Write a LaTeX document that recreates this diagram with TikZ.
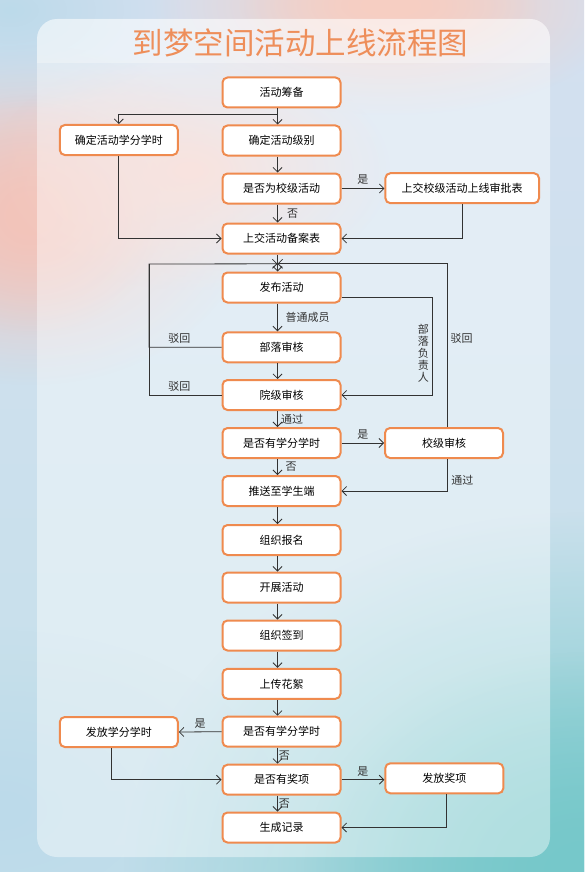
\documentclass[tikz,border=0pt]{standalone}
\usepackage{fontspec}
\setmainfont{Noto Sans CJK SC}
\usepackage{xcolor}
\usepackage{tikz}
\usetikzlibrary{arrows.meta, positioning, calc, fadings}
\definecolor{myorange}{RGB}{239,138,78}
\definecolor{titleorange}{RGB}{238,142,90}
\definecolor{mydark}{RGB}{50,50,50}
\definecolor{bgtop}{RGB}{212,224,240}
\definecolor{bgbottom}{RGB}{196,224,234}
\definecolor{bgpink}{RGB}{243,196,186}
\definecolor{bgpeach}{RGB}{247,206,194}
\definecolor{bgteal}{RGB}{118,200,202}
\definecolor{bgsky}{RGB}{188,218,234}
\tikzfading[name=softblob, inner color=transparent!0, outer color=transparent!100]
\tikzset{
  box/.style={rectangle, draw=myorange, fill=white, line width=2pt,
    minimum width=118pt, minimum height=30pt, rounded corners=5pt,
    font=\fontsize{11}{13.5}\selectfont, inner sep=2pt},
  widebox/.style={box, minimum width=153.6pt},
  arrow/.style={-{Straight Barb[length=4.5pt,width=9pt]}, line width=0.8pt, color=mydark},
  line/.style={line width=0.8pt, color=mydark},
  tag/.style={font=\fontsize{11}{12}\selectfont, text=mydark}
}

\begin{document}
\begin{tikzpicture}[x=1pt, y=-1pt]
  \useasboundingbox (0,0) rectangle (584,872);

  % Background
  \begin{scope}
    \clip (0,0) rectangle (584,872);
    \shade[top color=bgtop, bottom color=bgbottom] (0,0) rectangle (584,872);
    \fill[bgpink, path fading=softblob] (30,215) ellipse [x radius=220, y radius=170];
    \fill[bgpink, path fading=softblob] (30,215) ellipse [x radius=130, y radius=120];
    \fill[bgpink!80, path fading=softblob] (190,170) ellipse [x radius=200, y radius=120];
    \fill[bgpeach, path fading=softblob] (390,5) ellipse [x radius=240, y radius=110];
    \fill[bgpeach, path fading=softblob] (390,5) ellipse [x radius=150, y radius=60];
    \fill[bgsky, path fading=softblob] (10,10) ellipse [x radius=170, y radius=100];
    \fill[bgsky, path fading=softblob] (0,810) ellipse [x radius=280, y radius=180];
    \fill[bgteal, path fading=softblob] (584,872) ellipse [x radius=460, y radius=360];
    \fill[bgteal, path fading=softblob] (584,872) ellipse [x radius=280, y radius=220];
  \end{scope}

  % Panel
  \fill[white, fill opacity=0.42, rounded corners=20pt] (37,19) rectangle (550,857);
  \begin{scope}
    \clip[rounded corners=20pt] (37,19) rectangle (550,857);
    \fill[white, fill opacity=0.3] (37,19) rectangle (550,63);
  \end{scope}

  % Title
  \node[font=\fontsize{30.5}{36}\selectfont, text=titleorange] (title) at (300.5,43) {到梦空间活动上线流程图};

  % Nodes
  \node[box] (prep) at (281.5,92.5) {活动筹备};
  \node[box] (credit) at (118.8,140) {确定活动学分学时};
  \node[box] (level) at (281.5,140.5) {确定活动级别};
  \node[box] (school) at (281.5,188.5) {是否为校级活动};
  \node[widebox] (approval) at (462.2,188.2) {上交校级活动上线审批表};
  \node[box] (file) at (281.5,238.5) {上交活动备案表};
  \node[box] (publish) at (281.5,287.5) {发布活动};
  \node[box] (tribe) at (281.5,347.3) {部落审核};
  \node[box] (college) at (281.5,395) {院级审核};
  \node[box] (credq) at (281.5,443) {是否有学分学时};
  \node[box] (schoolrev) at (444,443) {校级审核};
  \node[box] (push) at (281.5,491) {推送至学生端};
  \node[box] (enroll) at (281.5,540) {组织报名};
  \node[box] (carry) at (281.5,587.5) {开展活动};
  \node[box] (signin) at (281.5,635.5) {组织签到};
  \node[box] (upload) at (281.5,683.8) {上传花絮};
  \node[box] (credq2) at (281.5,731.7) {是否有学分学时};
  \node[box] (grant) at (118.8,732) {发放学分学时};
  \node[box] (award) at (281.5,779.7) {是否有奖项};
  \node[box] (prize) at (444.3,778.3) {发放奖项};
  \node[box] (record) at (281.5,827.5) {生成记录};

  % Junctions
  \coordinate (split) at ([xshift=-4pt,yshift=-6pt]prep.south);
  \coordinate (merge) at ([xshift=-4pt,yshift=7.7pt]publish.north);
  \coordinate (rejL) at (149,264);

  % Connections
  \draw[line] ([xshift=-4pt]prep.south) -- (split);
  \draw[arrow] (split) -- ([xshift=-4pt]level.north);
  \draw[arrow] (split) -| (credit.north);
  \draw[arrow] ([xshift=-4pt]level.south) -- ([xshift=-4pt]school.north);
  \draw[arrow] (school.east) -- node[tag, above] {是} (school.east -| approval.west);
  \draw[arrow] ([xshift=-4pt]school.south) -- node[tag, right=6pt] {否} ([xshift=-4pt]file.north);
  \draw[arrow] (credit.south) |- (file.west);
  \draw[arrow] (approval.south) |- (file.east);
  \draw[arrow] ([xshift=-4pt]file.south) -- ([xshift=-4pt]publish.north);

  % Rejections
  \draw[arrow] (tribe.west) -| node[tag, above, pos=0.29] {驳回} (rejL) -- (merge);
  \draw[line] (college.west) -| node[tag, above, pos=0.29] {驳回} (rejL);
  \draw[arrow] ([xshift=3pt]schoolrev.north) |- node[tag, right, pos=0.27] {驳回} (merge);

  \draw[arrow] ([yshift=-10pt]publish.east) -- ++(91,0) |- node[tag, left, pos=0.285, align=center] {部\\落\\负\\责\\人} (college.east);
  \draw[arrow] ([xshift=-4pt]publish.south) -- node[tag, right=4.5pt] {普通成员} ([xshift=-4pt]tribe.north);
  \draw[arrow] ([xshift=-4pt]tribe.south) -- ([xshift=-4pt]college.north);
  \draw[arrow] ([xshift=-4pt]college.south) -- node[tag, right=0pt] {通过} ([xshift=-4pt]credq.north);
  \draw[arrow] (credq.east) -- node[tag, above] {是} (schoolrev.west);
  \draw[arrow] ([xshift=-4pt]credq.south) -- node[tag, right=4.5pt] {否} ([xshift=-4pt]push.north);
  \draw[arrow] ([xshift=3.7pt]schoolrev.south) |- node[tag, right, pos=0.33] {通过} (push.east);

  \draw[arrow] ([xshift=-4pt]push.south) -- ([xshift=-4pt]enroll.north);
  \draw[arrow] ([xshift=-4pt]enroll.south) -- ([xshift=-4pt]carry.north);
  \draw[arrow] ([xshift=-4pt]carry.south) -- ([xshift=-4pt]signin.north);
  \draw[arrow] ([xshift=-4pt]signin.south) -- ([xshift=-4pt]upload.north);
  \draw[arrow] ([xshift=-4pt]upload.south) -- ([xshift=-4pt]credq2.north);

  \draw[arrow] (credq2.west) -- node[tag, above] {是} (grant.east);
  \draw[arrow] ([xshift=-4pt]credq2.south) -- node[tag, right=0pt, inner sep=1pt] {否} ([xshift=-4pt]award.north);
  \draw[arrow] ([xshift=-7.5pt]grant.south) |- (award.west);
  \draw[arrow] (award.east) -- node[tag, above] {是} (award.east -| prize.west);
  \draw[arrow] ([xshift=-4pt]award.south) -- node[tag, right=0pt, inner sep=1pt] {否} ([xshift=-4pt]record.north);
  \draw[arrow] ([xshift=2pt]prize.south) |- (record.east);
\end{tikzpicture}
\end{document}
